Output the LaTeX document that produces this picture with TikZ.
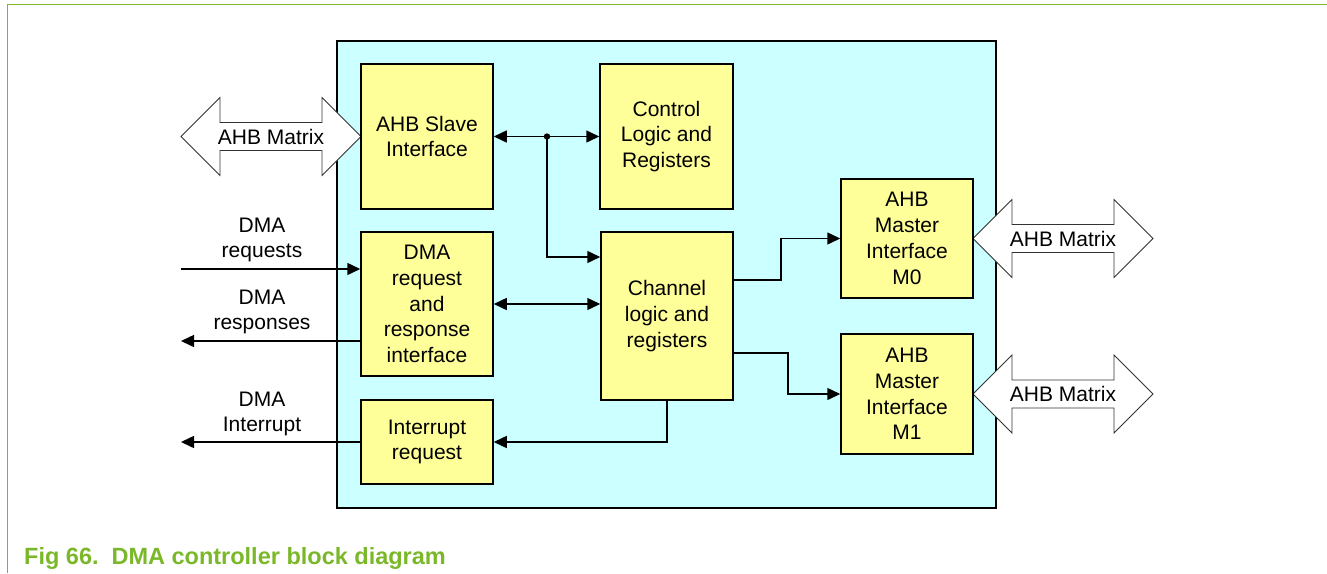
\documentclass[tikz,border=0pt]{standalone}
\usepackage{fontspec}
\setmainfont{Liberation Sans}
\usetikzlibrary{arrows.meta}
\definecolor{nxpgreen}{RGB}{122,184,42}
\definecolor{boxyellow}{RGB}{255,255,153}
\definecolor{boxcyan}{RGB}{204,255,255}
\newcommand\blockarrow[3]{%
  \draw[fat] (#1,#3) -- ({#1+39},{#3-39}) -- ({#1+39},{#3-14}) -- ({#2-39},{#3-14}) -- ({#2-39},{#3-39}) -- (#2,#3) -- ({#2-39},{#3+39}) -- ({#2-39},{#3+14}) -- ({#1+39},{#3+14}) -- ({#1+39},{#3+39}) -- cycle;}
\begin{document}
\begin{tikzpicture}[x=1pt,y=-1pt,
  block/.style={draw=black,fill=boxyellow,line width=1.5pt,minimum width=132pt,align=center,inner sep=0pt,font=\fontsize{21}{25.8}\selectfont},
  lbl/.style={align=center,inner sep=0pt,font=\fontsize{21}{25.8}\selectfont},
  conn/.style={line width=1.5pt,-{Triangle[length=13pt,width=12pt]}},
  biconn/.style={line width=1.5pt,{Triangle[length=13pt,width=12pt]}-{Triangle[length=13pt,width=12pt]}},
  fat/.style={draw=black!80,fill=white,line width=0.8pt}]
\useasboundingbox (0,0) rectangle (1327,573);
% frame
\draw[nxpgreen,line width=1.5pt] (7.5,573) -- (7.5,4.5) -- (1327,4.5);
% outer box
\node[draw=black,fill=boxcyan,line width=1.5pt,minimum width=659pt,minimum height=467pt,inner sep=0pt] (outer) at (666.5,274.5) {};
% block arrows
\blockarrow{181}{361}{136.5}
\node[lbl] (mx0) at (271,136.5) {AHB Matrix};
\blockarrow{973}{1153}{238.5}
\node[lbl] (mx1) at (1063,238.5) {AHB Matrix};
\blockarrow{973}{1153}{394}
\node[lbl] (mx2) at (1063,394) {AHB Matrix};
% blocks
\node[block,minimum height=145pt] (slave) at (427,136.5) {AHB Slave\\Interface};
\node[block,minimum height=145pt,minimum width=133pt] (ctrl) at (666.5,136.5) {Control\\Logic and\\Registers};
\node[block,minimum height=144pt] (dmareq) at (427,304) {DMA\\request\\and\\response\\interface};
\node[block,minimum height=84pt] (intr) at (427,442) {Interrupt\\request};
\node[block,minimum height=168pt] (chan) at (667,316) {Channel\\logic and\\registers};
\node[block,minimum height=119pt] (m0) at (907,238.5) {AHB\\Master\\Interface\\M0};
\node[block,minimum height=120pt] (m1) at (907,394) {AHB\\Master\\Interface\\M1};
% left labels
\node[lbl] (lreq) at (262,240) {DMA\\requests};
\node[lbl] (lresp) at (262,312) {DMA\\responses};
\node[lbl] (lint) at (262,414) {DMA\\Interrupt};
% connectors
\coordinate (j) at (547,136.5);
\draw[biconn] (slave.east) -- (ctrl.west);
\fill (j) circle (3.2pt);
\draw[conn] (j) |- ([yshift=59pt]chan.west);
\draw[biconn] (dmareq.east) -- (chan.west |- dmareq.east);
\coordinate (reqin) at (181,269);
\coordinate (respout) at (181,341);
\coordinate (intout) at (181,442);
\draw[conn] (reqin) -- (reqin -| dmareq.west);
\draw[conn] (respout -| dmareq.west) -- (respout);
\draw[conn] (intr.west) -- (intout);
\draw[conn] (chan.south) |- (intr.east);
\draw[conn] ([yshift=36pt]chan.east) -- ++(47,0) |- (m0.west);
\draw[conn] ([yshift=-37pt]chan.east) -- ++(54,0) |- (m1.west);
% caption
\node[anchor=base west,inner sep=0pt,text=nxpgreen,font=\fontsize{23.5}{28}\selectfont\bfseries] (cap) at (24,564) {Fig 66.\hspace{0.55em}DMA controller block diagram};
\end{tikzpicture}
\end{document}
